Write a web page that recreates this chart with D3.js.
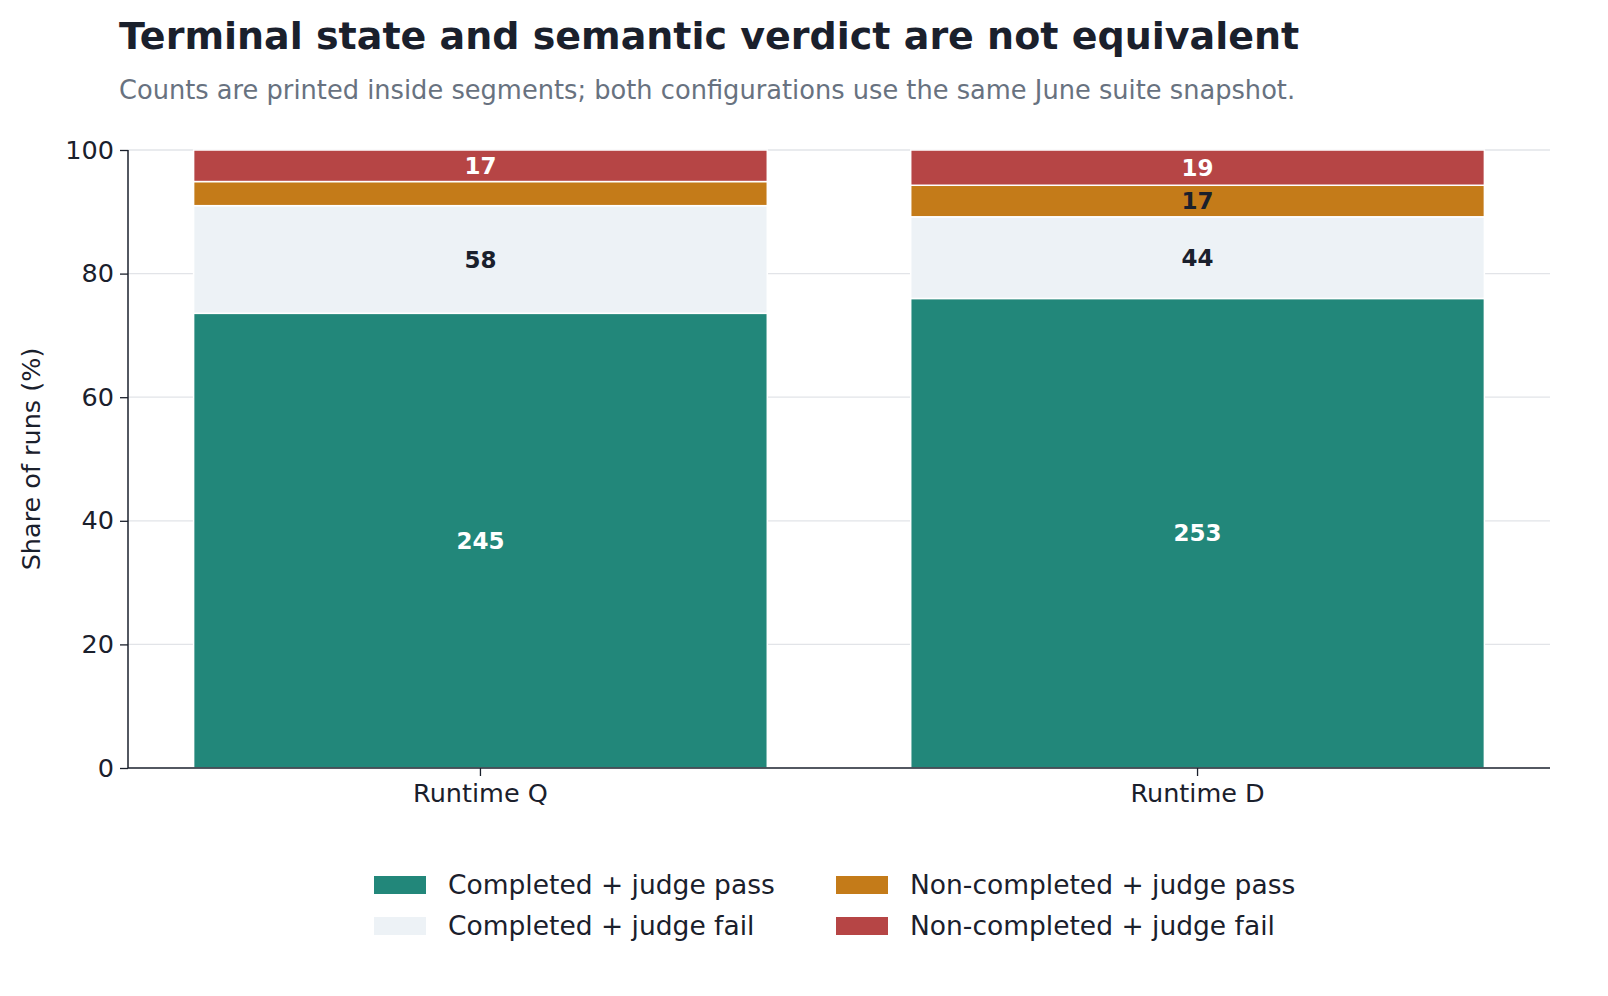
<!DOCTYPE html>
<html><head><meta charset="utf-8">
<script src="https://cdn.jsdelivr.net/npm/d3@7"></script>
<style>body{margin:0;background:#fff;font-family:"DejaVu Sans",sans-serif}</style>
</head><body><svg id="c" width="1608" height="996"></svg>
<script>
const categories = ["Runtime Q", "Runtime D"];
const seriesNames = ["Completed + judge pass", "Completed + judge fail", "Non-completed + judge pass", "Non-completed + judge fail"];
const passCompleted = [245, 253];
const failCompleted = [58, 44];
const passNonCompleted = [13, 17];
const failNonCompleted = [17, 19];
const colors = ["#22877a", "#edf2f6", "#c47b19", "#b64545"];
const labelColors = ["#ffffff", "#1a202c", "#1a202c", "#ffffff"];
const yTicks = [0, 20, 40, 60, 80, 100];

const svg = d3.select("#c");
const L = 128, R = 1550, T = 150, B = 768;
const x = d3.scaleBand().domain(categories).range([L, R]).paddingInner(0.2).paddingOuter(0.0915);
const y = d3.scaleLinear().domain([0, 100]).range([B, T]);

svg.append("text").attr("x", 119).attr("y", 49).attr("font-size", 38).attr("font-weight", "bold").attr("fill", "#1a202c").text("Terminal state and semantic verdict are not equivalent");
svg.append("text").attr("x", 119).attr("y", 99).attr("font-size", 25.7).attr("fill", "#687280").text("Counts are printed inside segments; both configurations use the same June suite snapshot.");

svg.append("g").selectAll("line").data(yTicks.slice(1)).join("line")
  .attr("x1", L).attr("x2", R).attr("y1", d => y(d)).attr("y2", d => y(d))
  .attr("stroke", "#e2e4e8").attr("stroke-width", 1.3);

const series = [passCompleted, failCompleted, passNonCompleted, failNonCompleted];
categories.forEach((c, i) => {
  const total = d3.sum(series, s => s[i]);
  let cum = 0;
  series.forEach((s, k) => {
    const v = s[i] / total * 100;
    const y0 = cum, y1 = cum + v; cum = y1;
    svg.append("rect").attr("x", x(c)).attr("width", x.bandwidth())
      .attr("y", y(y1)).attr("height", y(y0) - y(y1))
      .attr("fill", colors[k]).attr("stroke", "#fff").attr("stroke-width", 1.5);
    if (v >= 4.5) {
      svg.append("text").attr("x", x(c) + x.bandwidth() / 2).attr("y", (y(y0) + y(y1)) / 2)
        .attr("dy", "0.35em").attr("text-anchor", "middle").attr("font-size", 23).attr("font-weight", "bold")
        .attr("fill", labelColors[k]).text(s[i]);
    }
  });
});

const ya = svg.append("g").attr("transform", `translate(${L},0)`).call(d3.axisLeft(y).tickValues(yTicks).tickSize(8).tickPadding(6));
ya.selectAll("text").attr("font-size", 25.5).attr("fill", "#1a202c").attr("font-family", "DejaVu Sans");
const xa = svg.append("g").attr("transform", `translate(0,${B})`).call(d3.axisBottom(x).tickSize(8).tickPadding(8));
xa.selectAll("text").attr("font-size", 25.5).attr("fill", "#1a202c").attr("font-family", "DejaVu Sans");
[ya, xa].forEach(a => { a.select(".domain").attr("stroke", "#1a202c").attr("stroke-width", 1.5); a.selectAll(".tick line").attr("stroke", "#1a202c").attr("stroke-width", 1.3); });
xa.select(".domain").attr("d", `M${L},0H${R}`);
ya.select(".domain").attr("d", `M0,${B}V${T}`);

svg.append("text").attr("transform", `translate(40,${(T + B) / 2}) rotate(-90)`).attr("text-anchor", "middle")
  .attr("font-size", 25.5).attr("fill", "#1a202c").text("Share of runs (%)");

const legPos = [[374, 885], [374, 926], [836, 885], [836, 926]];
seriesNames.forEach((n, k) => {
  svg.append("rect").attr("x", legPos[k][0]).attr("y", legPos[k][1] - 9).attr("width", 52).attr("height", 18).attr("fill", colors[k]);
  svg.append("text").attr("x", legPos[k][0] + 74).attr("y", legPos[k][1]).attr("dy", "0.35em").attr("font-size", 26.5).attr("fill", "#1a202c").text(n);
});
</script></body></html>
